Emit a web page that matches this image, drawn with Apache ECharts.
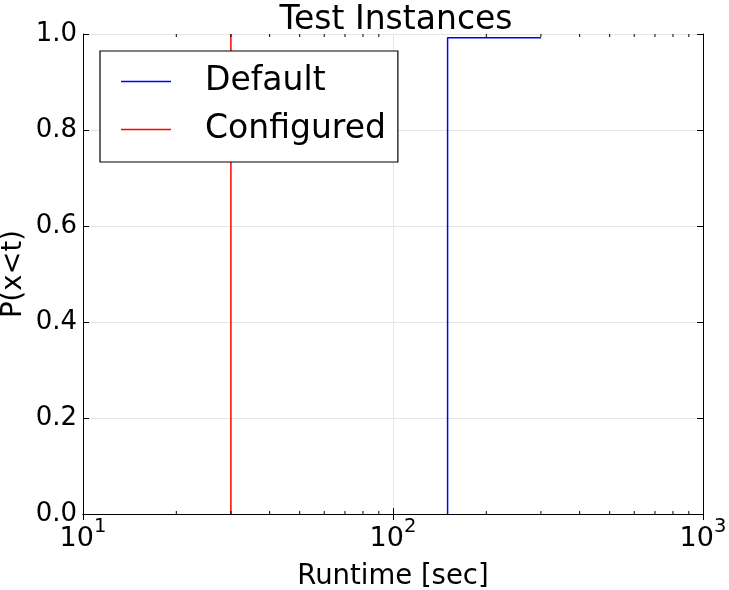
<!DOCTYPE html>
<html>
<head>
<meta charset="utf-8">
<script src="https://cdn.jsdelivr.net/npm/echarts@6/dist/echarts.min.js"></script>
<style>
html,body{margin:0;padding:0;background:#fff;}
#chart{width:729px;height:590px;}
</style>
</head>
<body>
<div id="chart"></div>
<script>
var titleText = 'Test Instances';
var xName = 'Runtime [sec]';
var yName = 'P(x<t)';
var seriesNames = ['Default', 'Configured'];
var defaultX = [150, 150, 300];
var defaultY = [0.0, 0.992, 0.992];
var configuredX = [30, 30, 30];
var configuredY = [0.0, 0.01, 1.0];
var minorTickValues = [20, 30, 40, 50, 60, 70, 80, 90, 200, 300, 400, 500, 600, 700, 800, 900];
var yTicks = [0.0, 0.2, 0.4, 0.6, 0.8, 1.0];

function zip(xs, ys) { return xs.map(function (x, i) { return [x, ys[i]]; }); }

var FONT = 'DejaVu Sans';
var chart = echarts.init(document.getElementById('chart'), null, {renderer: 'canvas'});

var axisLineStyle = {color: '#000', width: 1};

var option = {
  animation: false,
  backgroundColor: '#fff',
  textStyle: {fontFamily: FONT, color: '#000'},
  title: {
    text: titleText,
    left: 391,
    top: -1,
    textAlign: 'center',
    textStyle: {fontFamily: FONT, fontSize: 33, fontWeight: 'normal', color: '#000'}
  },
  legend: {
    orient: 'vertical',
    left: 100,
    top: 51,
    padding: [14, 12, 16, 21],
    icon: 'rect',
    itemWidth: 50,
    itemHeight: 1.4,
    itemGap: 15,
    borderColor: '#000',
    borderWidth: 1.2,
    backgroundColor: '#fff',
    data: seriesNames,
    textStyle: {fontFamily: FONT, fontSize: 33, color: '#000', lineHeight: 32, padding: [0, 0, 0, 29]}
  },
  grid: {left: 83, right: 26, top: 34, bottom: 76, containLabel: false, outerBoundsMode: 'none'},
  xAxis: [{
    type: 'log',
    logBase: 10,
    min: 10,
    max: 1000,
    position: 'bottom',
    name: xName,
    nameLocation: 'middle',
    nameGap: 49,
    nameTextStyle: {fontFamily: FONT, fontSize: 27.5, color: '#000'},
    axisLine: {show: true, lineStyle: axisLineStyle},
    axisTick: {show: true, inside: true, length: 6, lineStyle: {color: '#000'}},
    splitLine: {show: true, lineStyle: {color: '#e6e6e6', width: 1}},
    axisLabel: {
      margin: 3,
      color: '#000',
      formatter: function (v) {
        var e = Math.round(Math.log10(v));
        return '{b|10}{s|' + e + '}';
      },
      rich: {
        b: {fontFamily: FONT, fontSize: 27, color: '#000', padding: [8, 0, 0, 0]},
        s: {fontFamily: FONT, fontSize: 19.5, color: '#000', verticalAlign: 'top'}
      }
    }
  }, {
    type: 'log',
    logBase: 10,
    min: 10,
    max: 1000,
    position: 'top',
    axisLine: {show: true, lineStyle: axisLineStyle},
    axisTick: {show: true, inside: true, length: 6, lineStyle: {color: '#000'}},
    axisLabel: {show: false},
    splitLine: {show: false}
  }],
  yAxis: [{
    type: 'value',
    min: 0,
    max: 1,
    interval: 0.2,
    position: 'left',
    name: yName,
    nameLocation: 'middle',
    nameGap: 55,
    nameMoveOverlap: false,
    nameTextStyle: {fontFamily: FONT, fontSize: 27.5, color: '#000'},
    axisLine: {show: true, lineStyle: axisLineStyle},
    axisTick: {show: true, inside: true, length: 6, lineStyle: {color: '#000'}},
    splitLine: {show: true, lineStyle: {color: '#e6e6e6', width: 1}},
    axisLabel: {
      margin: 6,
      color: '#000',
      fontFamily: FONT,
      fontSize: 26,
      formatter: function (v) { return v.toFixed(1); }
    }
  }, {
    type: 'value',
    min: 0,
    max: 1,
    interval: 0.2,
    position: 'right',
    axisLine: {show: true, lineStyle: axisLineStyle},
    axisTick: {show: true, inside: true, length: 6, lineStyle: {color: '#000'}},
    axisLabel: {show: false},
    splitLine: {show: false}
  }],
  series: [{
    name: seriesNames[0],
    type: 'line',
    xAxisIndex: 0,
    yAxisIndex: 0,
    data: zip(defaultX, defaultY),
    symbol: 'none',
    showSymbol: false,
    lineStyle: {color: '#0000ff', width: 1.5},
    itemStyle: {color: '#0000ff'},
    z: 3
  }, {
    name: seriesNames[1],
    type: 'line',
    xAxisIndex: 0,
    yAxisIndex: 0,
    data: zip(configuredX, configuredY),
    symbol: 'none',
    showSymbol: false,
    lineStyle: {color: '#ff0000', width: 1.5},
    itemStyle: {color: '#ff0000'},
    z: 3
  }, {
    type: 'custom',
    xAxisIndex: 0,
    yAxisIndex: 0,
    silent: true,
    clip: false,
    z: 4,
    data: minorTickValues.map(function (v) { return [v, 0]; }),
    renderItem: function (params, api) {
      var v = api.value(0);
      var b = api.coord([v, 0]);
      var t = api.coord([v, 1]);
      return {
        type: 'group',
        children: [
          {type: 'line', shape: {x1: b[0], y1: b[1], x2: b[0], y2: b[1] - 3}, style: {stroke: '#000', lineWidth: 1}},
          {type: 'line', shape: {x1: t[0], y1: t[1], x2: t[0], y2: t[1] + 3}, style: {stroke: '#000', lineWidth: 1}}
        ]
      };
    }
  }]
};
chart.setOption(option);
</script>
</body>
</html>
